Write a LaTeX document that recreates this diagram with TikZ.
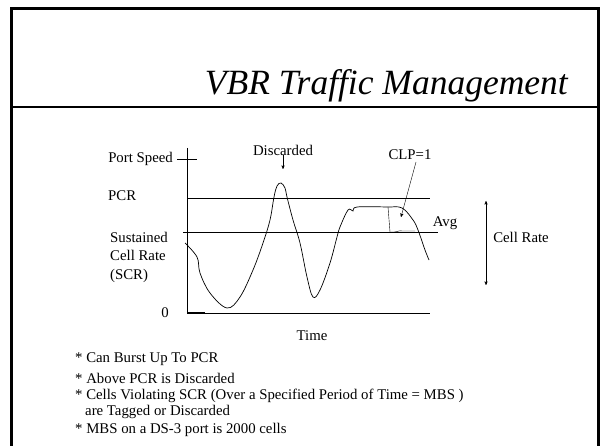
\documentclass[tikz,border=0pt]{standalone}
\usepackage{fontspec}
\setmainfont{Liberation Serif}
\usetikzlibrary{arrows,positioning}
\tikzset{lbl/.style={inner sep=0pt,font=\fontsize{14.8}{18.5}\selectfont},
}

\begin{document}
\begin{tikzpicture}[x=1pt,y=-1pt,>=stealth',thin,
		bullet/.style={lbl,anchor=west},
		curve/.style={line width=0.7pt,smooth,tension=0.6}]
		
		\useasboundingbox (0,0) rectangle (600,446);
		% slide frame
		\draw[line width=3pt] (11,446) -- (11,9) -- (598,9) -- (598,446);
		\draw[line width=1.2pt] (11,107) -- (598,107);
		\node[font=\fontsize{35.5}{40}\selectfont\itshape,anchor=base east,inner sep=0pt] (title) at (568,95) {VBR Traffic Management};
		
		% axes
		\coordinate (o) at (187,313);
		\coordinate (top) at (187,148);
		\coordinate (xend) at (430,313);
		\draw (top) -- (o) -- (xend);
		\draw[line width=1.5pt] (o) -- (205,313);
		\coordinate (tl) at (177,159);
		\coordinate (tr) at (197,159);
		\draw (tl) -- (tr);
		\coordinate (pcrl) at (187,198);
		\coordinate (pcrr) at (430,198);
		\draw (pcrl) -- (pcrr);
		\coordinate (scrl) at (183,232);
		\coordinate (scrr) at (438,232);
		\draw (scrl) -- (scrr);
		
		\node[lbl,anchor=east] (port) at (173,159) {Port Speed};
		\node[lbl,anchor=west] (pcr) at (108,196) {PCR};
		\node[lbl,anchor=west,align=left] (scr) at (110,257) {Sustained\\Cell Rate\\(SCR)};
		\node[lbl] (zero) at (165,313) {0};
		\node[lbl] (time) at (312,336) {Time};
		
		% cell rate trace
		\draw[curve] plot coordinates {(185,243) (197,257) (200,273) (210,293) (227,308) (240,297)
			(253,270) (263,243) (270,220) (274,197) (277,186) (281,183) (285,188) (287,197)
			(293,220) (300,243) (307,277) (313,297) (320,290) (330,263) (337,237) (340,227)
			(348,210) (353,211) (357,207) (387,207) (402,208) (413,220) (418,230) (425,250) (429,260)};
		\draw (271,198) -- (287,198);
		% tagged cells
		\coordinate (ta) at (388,207);
		\coordinate (tb) at (390,232);
		\coordinate (tc) at (403,231);
		\coordinate (td) at (415,231);
		\draw (ta) -- (tb);
		\draw (tb) .. controls (396,233) and (398,230) .. (tc) -- (td);
		
		\node[lbl] (disc) at (283,150) {Discarded};
		\coordinate (peak) at (283,169);
		\draw[->] (disc) -- (peak);
		\node[lbl] (clp) at (410,155) {CLP=1};
		\coordinate (clpstart) at (416,162);
		\coordinate (clpend) at (401,217);
		\draw[->] (clpstart) -- (clpend);
		\node[lbl] (avg) at (445,223) {Avg};
		
		\node[lbl] (rate) at (521,237) {Cell Rate};
		\coordinate (rtop) at (486,201);
		\coordinate (rbot) at (486,285);
		\draw[<->] (rtop) -- (rbot);
		
		% notes
		\node[bullet] (b1) at (75,359) {* Can Burst Up To PCR};
		\node[bullet] (b2) at (75,378) {* Above PCR is Discarded};
		\node[bullet] (b3) at (75,396) {* Cells Violating SCR (Over a Specified Period of Time = MBS )};
		\node[bullet] (b3b) at (85,412) {are Tagged or Discarded};
		\node[bullet] (b4) at (75,430) {* MBS on a DS-3 port is 2000 cells};
		\end{tikzpicture}
\end{document}
